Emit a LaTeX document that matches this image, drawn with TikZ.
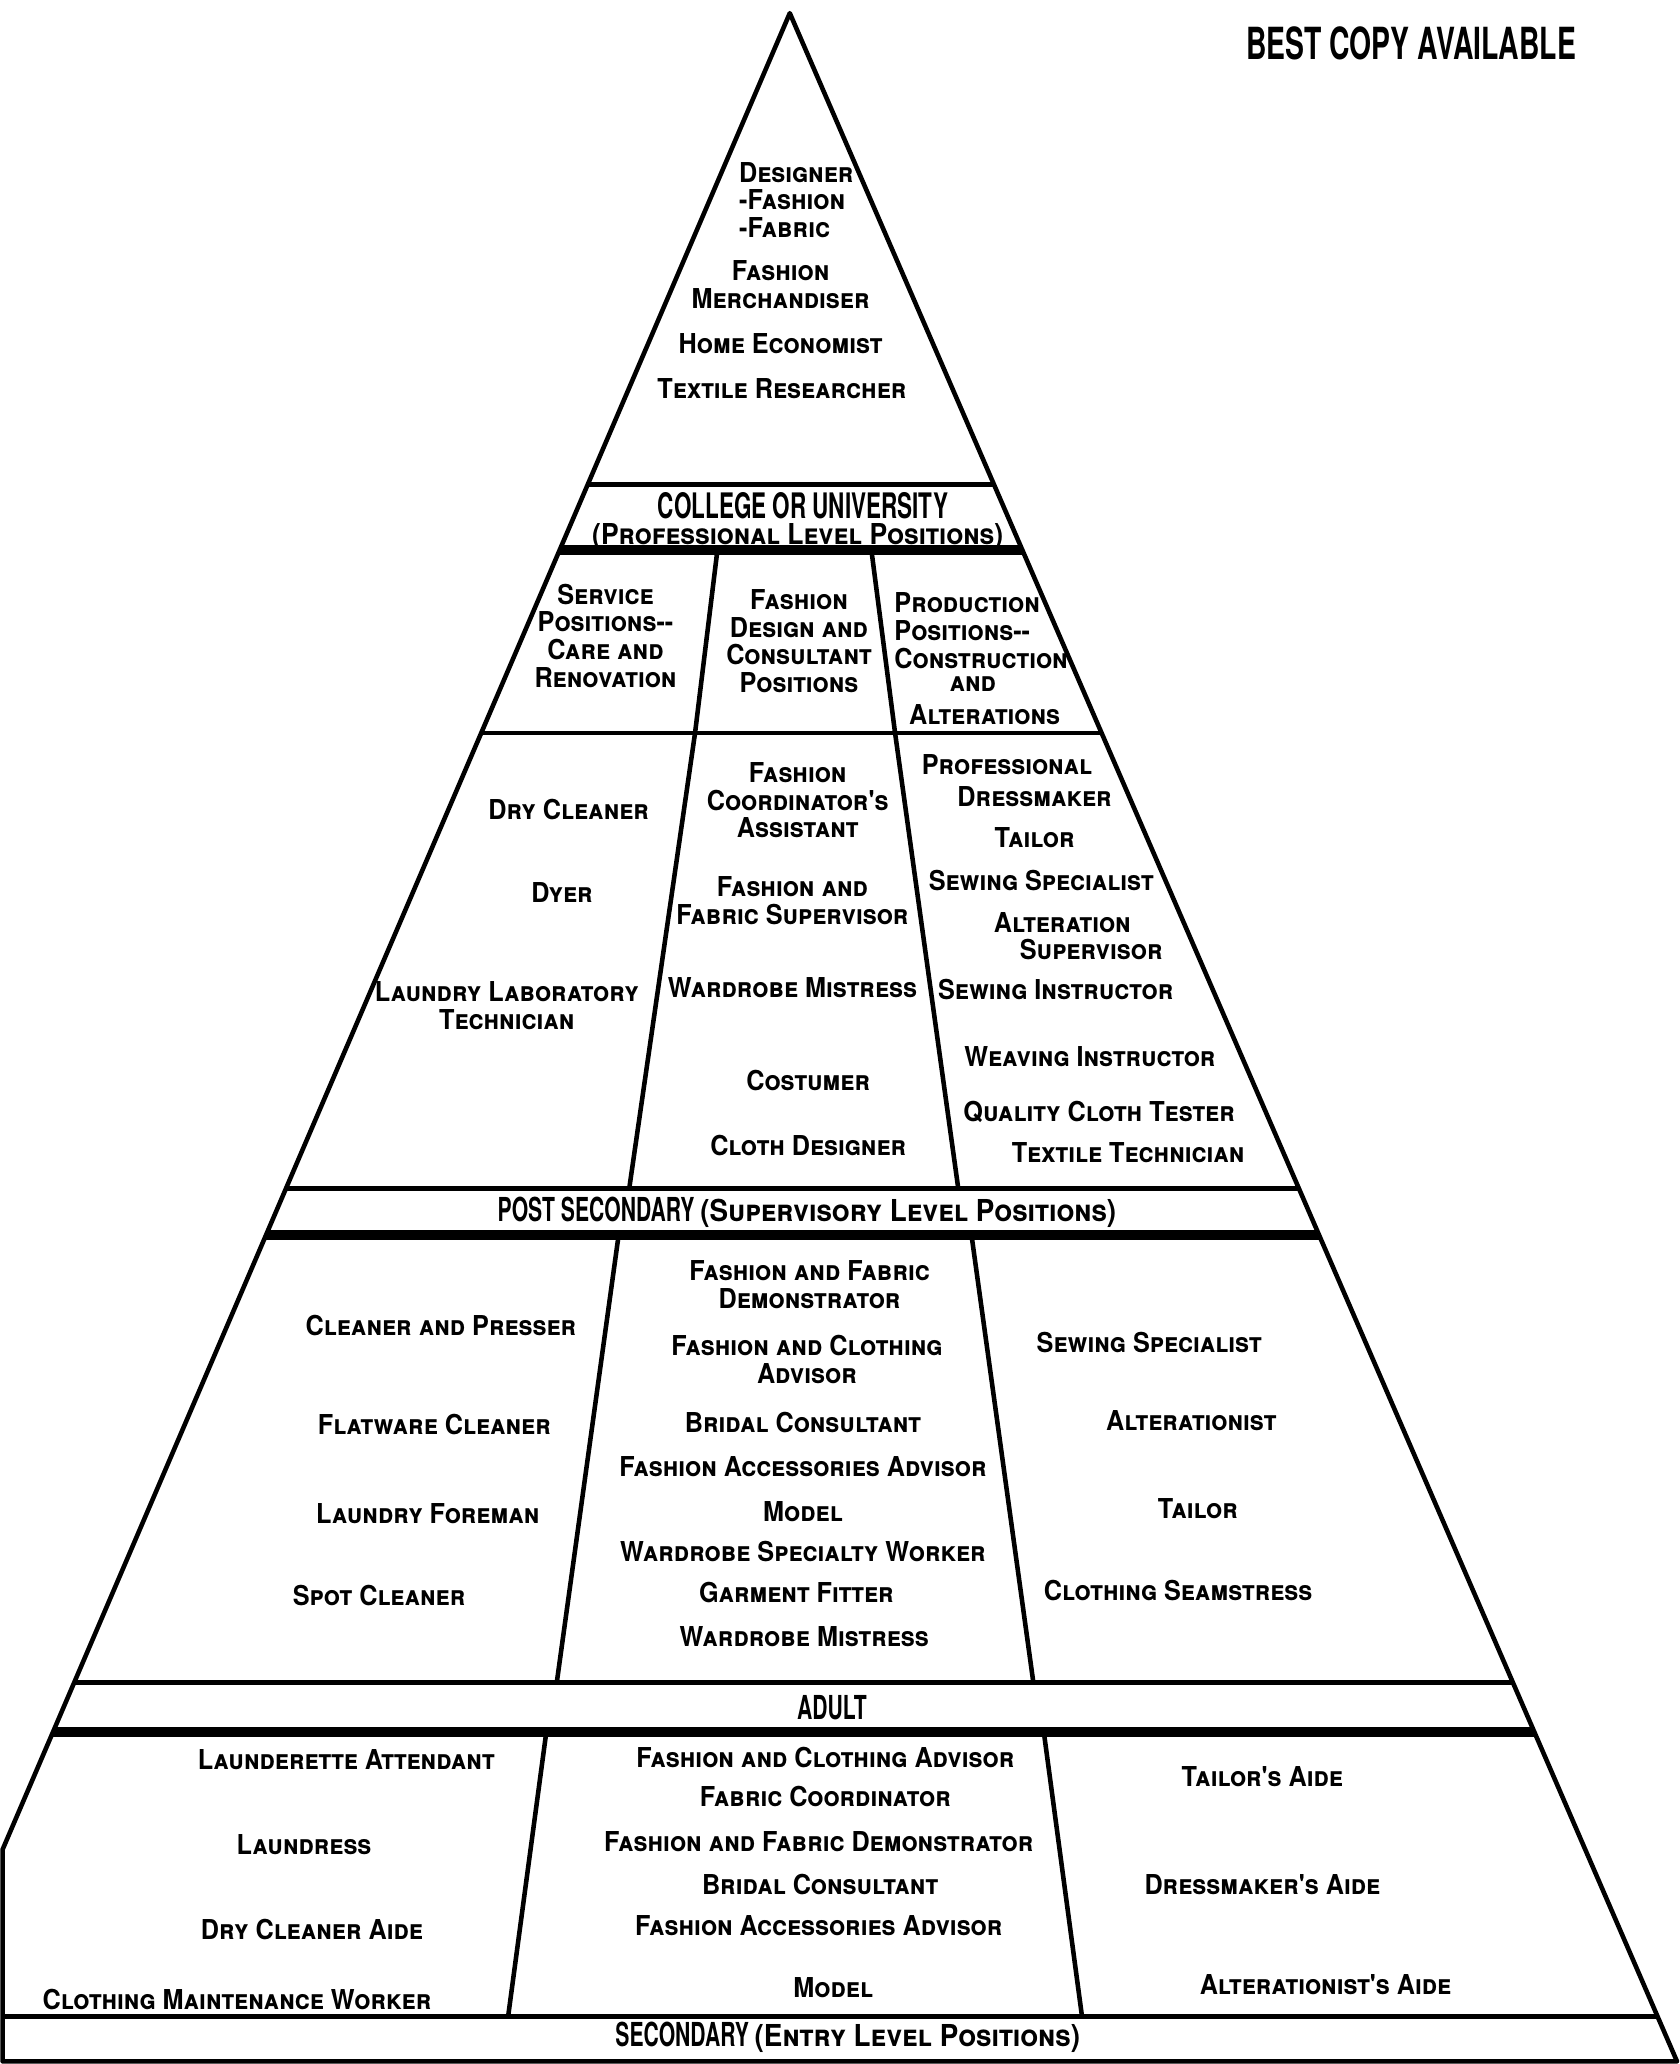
\documentclass[tikz,border=0pt]{standalone}
\usepackage{fontspec}
\setmainfont{TeX Gyre Heros}
\newfontfamily\scfont[FakeStretch=0.92]{TeX Gyre Heros}
\newfontfamily\capsfont[FakeStretch=0.64]{TeX Gyre Heros}

\begin{document}
\begin{tikzpicture}[
  x=0.013166cm, y=-0.013166cm,
  line join=round,
  job/.style={font=\scfont\bfseries\scshape\fontsize{7.8}{7.9}\selectfont, align=center, inner sep=0pt},
  level/.style={font=\scfont\bfseries\scshape\fontsize{8.2}{8.2}\selectfont, inner sep=0pt},
  head/.style={font=\capsfont\bfseries\fontsize{9.4}{9.4}\selectfont, inner sep=0pt},
  stamp/.style={font=\capsfont\bfseries\fontsize{12.6}{12.6}\selectfont, inner sep=0pt},
  rule/.style={line width=1.3pt},
  heavy/.style={line width=2.8pt}
]

\useasboundingbox (0,0) rectangle (1276,1568);

% pyramid outline and band lines
\coordinate (apex) at (600,10);
\coordinate (lbend) at (2,1405);
\coordinate (lfoot) at (2,1566);
\coordinate (rfoot) at (1274,1566);
\begin{scope}
  \clip (apex) -- (lbend) -- (lfoot) -- (rfoot) -- cycle;
  \foreach \y in {368,557,903,1278,1532} \draw[rule] (0,\y) -- (1276,\y);
  \foreach \y in {418,938,1316} \draw[heavy] (0,\y) -- (1276,\y);
\end{scope}
\draw[rule] (apex) -- (lbend) -- (lfoot) -- (rfoot) -- cycle;

% column dividers
\draw[rule] (545,418) -- (528,557) -- (478,903);
\draw[rule] (662,418) -- (680,557) -- (728,903);
\draw[rule] (470,938) -- (423,1278);
\draw[rule] (738,938) -- (785,1278);
\draw[rule] (415,1316) -- (386,1532);
\draw[rule] (793,1316) -- (822,1532);

\node[stamp] (best) at (1072,33) {BEST COPY AVAILABLE};

% top of the pyramid
\node[job, align=left, anchor=west] (designer) at (561,152) {Designer\\-Fashion\\-Fabric};
\node[job] (merch) at (593,216) {Fashion\\Merchandiser};
\node[job] (homeec) at (593,261) {Home Economist};
\node[job] (texres) at (594,295) {Textile Researcher};

\node[head, font=\capsfont\bfseries\fontsize{10}{10}\selectfont] (college) at (610,384) {COLLEGE OR UNIVERSITY};
\node[level] (profl) at (606,408) {(Professional Level Positions)};

% column headings
\node[job] (service) at (460,483) {Service\\Positions{-}{-}\\Care and\\Renovation};
\node[job] (design) at (607,487) {Fashion\\Design and\\Consultant\\Positions};
\node[job, align=left, anchor=west] (product) at (679,479) {Production\\Positions{-}{-}\\Construction};
\node[job] (prodand) at (739,520) {and};
\node[job] (alter) at (748,543) {Alterations};

% supervisory band: care and renovation
\node[job] (drycl) at (432,615) {Dry Cleaner};
\node[job] (dyer) at (427,678) {Dyer};
\node[job] (lablaund) at (385,764) {Laundry Laboratory\\Technician};
% supervisory band: design and consultant
\node[job] (coordas) at (606,608) {Fashion\\Coordinator's\\Assistant};
\node[job] (ffsup) at (602,684) {Fashion and\\Fabric Supervisor};
\node[job] (wardmis) at (602,750) {Wardrobe Mistress};
\node[job] (costumer) at (614,821) {Costumer};
\node[job] (clothdes) at (614,870) {Cloth Designer};
% supervisory band: construction and alterations
\node[job] (profes) at (765,581) {Professional};
\node[job] (dressm) at (786,605) {Dressmaker};
\node[job] (tailor) at (786,636) {Tailor};
\node[job] (sewspec) at (791,669) {Sewing Specialist};
\node[job] (altsup) at (807,701) {Alteration};
\node[job] (altsupb) at (829,721) {Supervisor};
\node[job] (sewins) at (802,752) {Sewing Instructor};
\node[job] (weavins) at (828,803) {Weaving Instructor};
\node[job] (qualtest) at (835,845) {Quality Cloth Tester};
\node[job] (textech) at (857,876) {Textile Technician};

\node[head] (postsec) at (613,921) {POST SECONDARY {\scfont\scshape\fontsize{8.6}{8.6}\selectfont(Supervisory Level Positions)}};

% post secondary band
\node[job] (presser) at (335,1007) {Cleaner and Presser};
\node[job] (flatw) at (330,1082) {Flatware Cleaner};
\node[job] (foreman) at (325,1150) {Laundry Foreman};
\node[job] (spotcl) at (288,1212) {Spot Cleaner};
\node[job] (ffdemo) at (615,976) {Fashion and Fabric\\Demonstrator};
\node[job] (fcadv) at (613,1033) {Fashion and Clothing\\Advisor};
\node[job] (bridal) at (610,1081) {Bridal Consultant};
\node[job] (faccadv) at (610,1114) {Fashion Accessories Advisor};
\node[job] (model) at (610,1148) {Model};
\node[job] (wspec) at (610,1179) {Wardrobe Specialty Worker};
\node[job] (fitter) at (605,1210) {Garment Fitter};
\node[job] (wardmisb) at (611,1243) {Wardrobe Mistress};
\node[job] (sewspecb) at (873,1020) {Sewing Specialist};
\node[job] (alterist) at (905,1079) {Alterationist};
\node[job] (tailorb) at (910,1146) {Tailor};
\node[job] (seamst) at (895,1208) {Clothing Seamstress};

\node[head] (adult) at (632,1297) {ADULT};

% entry band
\node[job] (launder) at (263,1337) {Launderette Attendant};
\node[job] (laundress) at (231,1401) {Laundress};
\node[job] (dcaide) at (237,1466) {Dry Cleaner Aide};
\node[job] (maint) at (180,1519) {Clothing Maintenance Worker};
\node[job] (fcadvb) at (627,1335) {Fashion and Clothing Advisor};
\node[job] (fabcoord) at (627,1365) {Fabric Coordinator};
\node[job] (ffdemob) at (622,1399) {Fashion and Fabric Demonstrator};
\node[job] (bridalb) at (623,1432) {Bridal Consultant};
\node[job] (faccadvb) at (622,1463) {Fashion Accessories Advisor};
\node[job] (modelb) at (633,1510) {Model};
\node[job] (taide) at (959,1350) {Tailor's Aide};
\node[job] (daide) at (959,1432) {Dressmaker's Aide};
\node[job] (aaide) at (1007,1508) {Alterationist's Aide};

\node[head] (secondary) at (644,1548) {SECONDARY {\scfont\scshape\fontsize{8.6}{8.6}\selectfont(Entry Level Positions)}};

\end{tikzpicture}
\end{document}
